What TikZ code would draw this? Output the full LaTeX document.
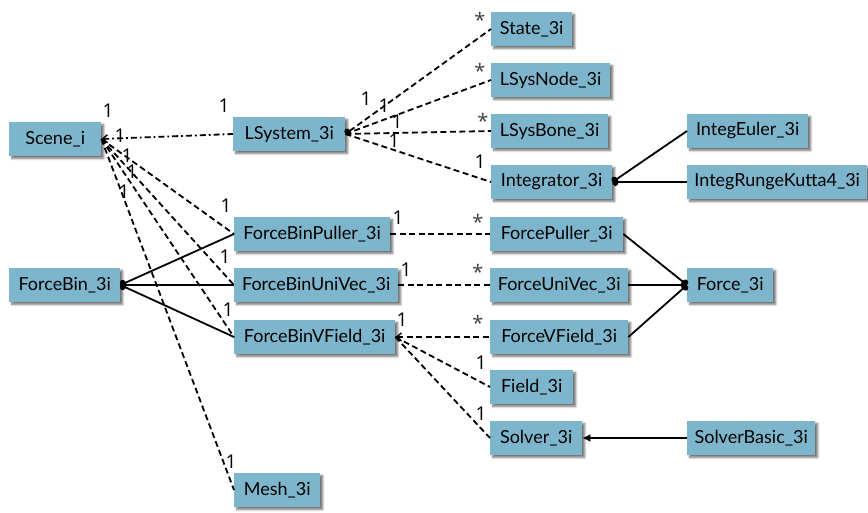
\documentclass[tikz,border=0pt]{standalone}
\usepackage{fontspec}
\setmainfont{Lato}
\newfontfamily\multfont{Open Sans}
\usetikzlibrary{arrows.meta,shadows.blur}
\definecolor{boxblue}{RGB}{125,182,204}
\tikzset{
  cls/.style={anchor=west, fill=boxblue, draw=none, minimum height=34pt,
    inner sep=0pt, font=\fontsize{18}{20}\selectfont,
    blur shadow={shadow xshift=2.5pt, shadow yshift=-2.5pt, shadow blur steps=6, shadow opacity=55}},
  assoc/.style={line width=1.8pt, dash pattern=on 6pt off 3.5pt},
  dashdot/.style={line width=1.8pt, dash pattern=on 6pt off 3pt on 1.8pt off 3pt},
  solidlink/.style={line width=1.8pt},
  mult/.style={inner sep=0pt, font=\multfont\fontsize{19}{19}\selectfont},
  star/.style={inner sep=0pt, font=\multfont\fontsize{20}{20}\selectfont, text=black!75},
  dot/.style={{Circle[length=6pt,width=8pt]}-},
  barb/.style={{Straight Barb[length=5pt,width=8pt,line width=1.4pt]}-},
}
\begin{document}
\begin{tikzpicture}[x=1pt,y=-1pt]
\useasboundingbox (0,0) rectangle (868,512);
% classes
\node[cls, minimum width=92pt]  (scene)   at (9,139)   {Scene\_i};
\node[cls, minimum width=111pt] (fbin)    at (9,285)   {ForceBin\_3i};
\node[cls, minimum width=112pt] (lsys)    at (233,134) {LSystem\_3i};
\node[cls, minimum width=156pt] (fbpul)   at (234,234) {ForceBinPuller\_3i};
\node[cls, minimum width=164pt] (fbuni)   at (234,285) {ForceBinUniVec\_3i};
\node[cls, minimum width=161pt] (fbvf)    at (234,337) {ForceBinVField\_3i};
\node[cls, minimum width=86pt]  (mesh)    at (234,490) {Mesh\_3i};
\node[cls, minimum width=81pt]  (state)   at (491,29)  {State\_3i};
\node[cls, minimum width=119pt] (lnode)   at (491,80)  {LSysNode\_3i};
\node[cls, minimum width=117pt] (lbone)   at (491,131) {LSysBone\_3i};
\node[cls, minimum width=121pt] (integ)   at (491,182) {Integrator\_3i};
\node[cls, minimum width=121pt] (euler)   at (687,131) {IntegEuler\_3i};
\node[cls, minimum width=180pt] (rk4)     at (687,182) {IntegRungeKutta4\_3i};
\node[cls, minimum width=133pt] (fpul)    at (490,234) {ForcePuller\_3i};
\node[cls, minimum width=138pt] (funi)    at (490,285) {ForceUniVec\_3i};
\node[cls, minimum width=138pt] (fvf)     at (490,337) {ForceVField\_3i};
\node[cls, minimum width=86pt]  (force)   at (687,285) {Force\_3i};
\node[cls, minimum width=83pt]  (field)   at (490,387) {Field\_3i};
\node[cls, minimum width=92pt]  (solver)  at (490,438) {Solver\_3i};
\node[cls, minimum width=128pt] (sbasic)  at (687,438) {SolverBasic\_3i};

% Scene_i associations
\draw[dashdot, barb] (scene.east) -- (lsys.west);
\draw[assoc] (scene.east) -- (fbpul.west);
\draw[assoc] (scene.east) -- (fbuni.west);
\draw[assoc] (scene.east) -- (fbvf.west);
\draw[assoc] (scene.east) -- (mesh.west);
% ForceBin composition
\draw[solidlink, dot] (fbin.east) -- (fbpul.west);
\draw[solidlink, dot] (fbin.east) -- (fbuni.west);
\draw[solidlink, dot] (fbin.east) -- (fbvf.west);
% LSystem associations
\draw[assoc, dot] (lsys.east) -- (state.west);
\draw[assoc] (lsys.east) -- (lnode.west);
\draw[assoc] (lsys.east) -- (lbone.west);
\draw[assoc] (lsys.east) -- (integ.west);
% Integrator subclasses
\draw[solidlink, dot] (integ.east) -- (euler.west);
\draw[solidlink, dot] (integ.east) -- (rk4.west);
% ForceBin_* to Force_*
\draw[assoc] (fbpul.east) -- (fpul.west);
\draw[assoc] (fbuni.east) -- (funi.west);
\draw[assoc, barb] (fbvf.east) -- (fvf.west);
\draw[assoc] (fbvf.east) -- (field.west);
\draw[assoc] (fbvf.east) -- (solver.west);
% Force subclasses
\draw[solidlink, dot] (force.west) -- (fpul.east);
\draw[solidlink, dot] (force.west) -- (funi.east);
\draw[solidlink, dot] (force.west) -- (fvf.east);
% Solver subclass
\draw[solidlink, -{Latex[length=8pt,width=8pt]}] (sbasic.west) -- (solver.east);

% multiplicities
\node[mult] (m1)  at (108,111) {1};
\node[mult] (m2)  at (120,136) {1};
\node[mult] (m3)  at (127,156) {1};
\node[mult] (m4)  at (132,172) {1};
\node[mult] (m5)  at (124,192) {1};
\node[mult] (m6)  at (224,106) {1};
\node[mult] (m7)  at (226,206) {1};
\node[mult] (m8)  at (225,257) {1};
\node[mult] (m9)  at (228,310) {1};
\node[mult] (m10) at (231,462) {1};
\node[mult] (m11) at (366,99)  {1};
\node[mult] (m12) at (384,106) {1};
\node[mult] (m13) at (397,122) {1};
\node[mult] (m14) at (394,141) {1};
\node[star] (s1)  at (480,20)  {*};
\node[star] (s2)  at (480,71)  {*};
\node[star] (s3)  at (483,121) {*};
\node[mult] (m15) at (480,162) {1};
\node[mult] (m16) at (398,218) {1};
\node[star] (s4)  at (478,222) {*};
\node[mult] (m17) at (406,270) {1};
\node[star] (s5)  at (478,272) {*};
\node[mult] (m18) at (402,320) {1};
\node[star] (s6)  at (478,323) {*};
\node[mult] (m19) at (481,363) {1};
\node[mult] (m20) at (481,414) {1};
\end{tikzpicture}
\end{document}
